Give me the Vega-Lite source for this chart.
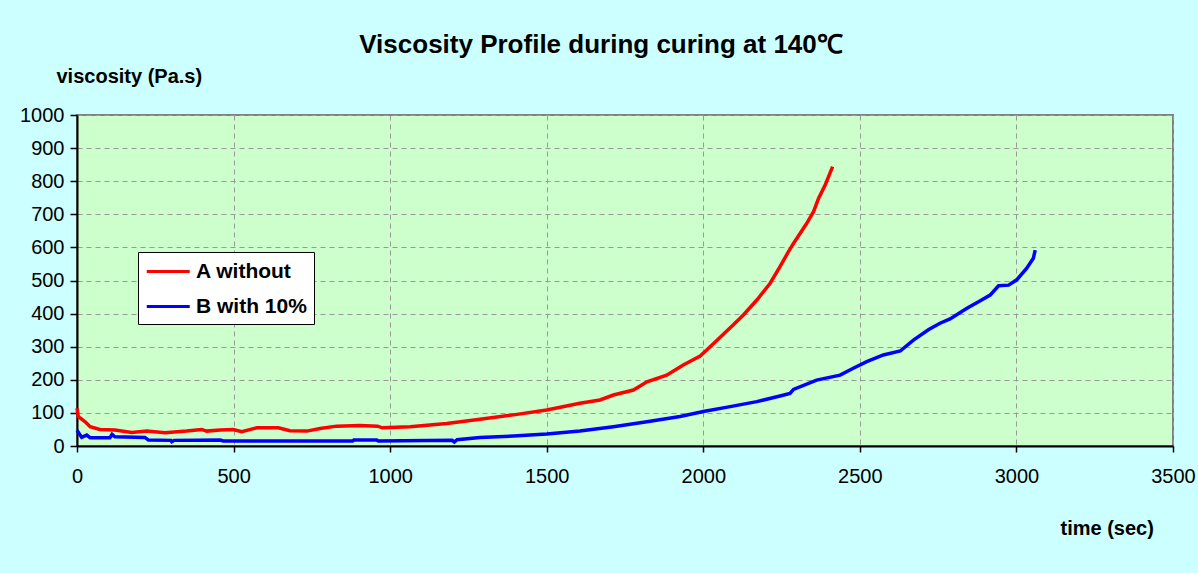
{
  "$schema": "https://vega.github.io/schema/vega-lite/v6.json",
  "width": 1096,
  "height": 331,
  "autosize": {"type": "none"},
  "padding": {"left": 77, "top": 115, "right": 25, "bottom": 127},
  "background": "#CCFFFF",
  "title": {
    "text": "Viscosity Profile during curing at 140℃",
    "font": "Liberation Sans",
    "fontSize": 26,
    "fontWeight": "bold",
    "color": "#000000",
    "anchor": "middle",
    "dx": -24,
    "offset": 8
  },
  "data": {
    "values": [
      {"t": 0, "v": 114, "s": "A without"},
      {"t": 4, "v": 89, "s": "A without"},
      {"t": 15, "v": 81, "s": "A without"},
      {"t": 26, "v": 73, "s": "A without"},
      {"t": 42, "v": 58, "s": "A without"},
      {"t": 73, "v": 50, "s": "A without"},
      {"t": 121, "v": 48, "s": "A without"},
      {"t": 175, "v": 41, "s": "A without"},
      {"t": 223, "v": 45, "s": "A without"},
      {"t": 281, "v": 40, "s": "A without"},
      {"t": 350, "v": 45, "s": "A without"},
      {"t": 398, "v": 50, "s": "A without"},
      {"t": 414, "v": 45, "s": "A without"},
      {"t": 457, "v": 48, "s": "A without"},
      {"t": 499, "v": 50, "s": "A without"},
      {"t": 526, "v": 43, "s": "A without"},
      {"t": 574, "v": 55, "s": "A without"},
      {"t": 643, "v": 55, "s": "A without"},
      {"t": 680, "v": 46, "s": "A without"},
      {"t": 734, "v": 45, "s": "A without"},
      {"t": 776, "v": 53, "s": "A without"},
      {"t": 829, "v": 60, "s": "A without"},
      {"t": 904, "v": 62, "s": "A without"},
      {"t": 960, "v": 60, "s": "A without"},
      {"t": 975, "v": 55, "s": "A without"},
      {"t": 1064, "v": 58, "s": "A without"},
      {"t": 1181, "v": 68, "s": "A without"},
      {"t": 1287, "v": 81, "s": "A without"},
      {"t": 1394, "v": 94, "s": "A without"},
      {"t": 1500, "v": 109, "s": "A without"},
      {"t": 1606, "v": 129, "s": "A without"},
      {"t": 1670, "v": 139, "s": "A without"},
      {"t": 1713, "v": 154, "s": "A without"},
      {"t": 1777, "v": 169, "s": "A without"},
      {"t": 1820, "v": 194, "s": "A without"},
      {"t": 1883, "v": 214, "s": "A without"},
      {"t": 1936, "v": 245, "s": "A without"},
      {"t": 1990, "v": 272, "s": "A without"},
      {"t": 2022, "v": 300, "s": "A without"},
      {"t": 2096, "v": 366, "s": "A without"},
      {"t": 2128, "v": 396, "s": "A without"},
      {"t": 2171, "v": 441, "s": "A without"},
      {"t": 2213, "v": 491, "s": "A without"},
      {"t": 2245, "v": 542, "s": "A without"},
      {"t": 2272, "v": 587, "s": "A without"},
      {"t": 2288, "v": 612, "s": "A without"},
      {"t": 2330, "v": 672, "s": "A without"},
      {"t": 2352, "v": 708, "s": "A without"},
      {"t": 2368, "v": 748, "s": "A without"},
      {"t": 2390, "v": 790, "s": "A without"},
      {"t": 2413, "v": 844, "s": "A without"},
      {"t": 0, "v": 48, "s": "B with 10%"},
      {"t": 10, "v": 33, "s": "B with 10%"},
      {"t": 15, "v": 26, "s": "B with 10%"},
      {"t": 31, "v": 33, "s": "B with 10%"},
      {"t": 42, "v": 25, "s": "B with 10%"},
      {"t": 105, "v": 25, "s": "B with 10%"},
      {"t": 112, "v": 35, "s": "B with 10%"},
      {"t": 121, "v": 28, "s": "B with 10%"},
      {"t": 217, "v": 26, "s": "B with 10%"},
      {"t": 228, "v": 18, "s": "B with 10%"},
      {"t": 300, "v": 17, "s": "B with 10%"},
      {"t": 303, "v": 13, "s": "B with 10%"},
      {"t": 310, "v": 17, "s": "B with 10%"},
      {"t": 457, "v": 18, "s": "B with 10%"},
      {"t": 467, "v": 15, "s": "B with 10%"},
      {"t": 880, "v": 15, "s": "B with 10%"},
      {"t": 884, "v": 18, "s": "B with 10%"},
      {"t": 957, "v": 18, "s": "B with 10%"},
      {"t": 962, "v": 15, "s": "B with 10%"},
      {"t": 1198, "v": 17, "s": "B with 10%"},
      {"t": 1205, "v": 12, "s": "B with 10%"},
      {"t": 1214, "v": 19, "s": "B with 10%"},
      {"t": 1287, "v": 26, "s": "B with 10%"},
      {"t": 1394, "v": 30, "s": "B with 10%"},
      {"t": 1500, "v": 36, "s": "B with 10%"},
      {"t": 1606, "v": 45, "s": "B with 10%"},
      {"t": 1713, "v": 58, "s": "B with 10%"},
      {"t": 1820, "v": 73, "s": "B with 10%"},
      {"t": 1926, "v": 89, "s": "B with 10%"},
      {"t": 2000, "v": 104, "s": "B with 10%"},
      {"t": 2086, "v": 119, "s": "B with 10%"},
      {"t": 2171, "v": 134, "s": "B with 10%"},
      {"t": 2245, "v": 151, "s": "B with 10%"},
      {"t": 2277, "v": 159, "s": "B with 10%"},
      {"t": 2288, "v": 171, "s": "B with 10%"},
      {"t": 2362, "v": 199, "s": "B with 10%"},
      {"t": 2437, "v": 214, "s": "B with 10%"},
      {"t": 2479, "v": 235, "s": "B with 10%"},
      {"t": 2522, "v": 255, "s": "B with 10%"},
      {"t": 2575, "v": 275, "s": "B with 10%"},
      {"t": 2629, "v": 287, "s": "B with 10%"},
      {"t": 2671, "v": 320, "s": "B with 10%"},
      {"t": 2720, "v": 352, "s": "B with 10%"},
      {"t": 2756, "v": 371, "s": "B with 10%"},
      {"t": 2788, "v": 384, "s": "B with 10%"},
      {"t": 2842, "v": 416, "s": "B with 10%"},
      {"t": 2879, "v": 436, "s": "B with 10%"},
      {"t": 2916, "v": 456, "s": "B with 10%"},
      {"t": 2943, "v": 484, "s": "B with 10%"},
      {"t": 2975, "v": 486, "s": "B with 10%"},
      {"t": 3001, "v": 502, "s": "B with 10%"},
      {"t": 3033, "v": 537, "s": "B with 10%"},
      {"t": 3054, "v": 567, "s": "B with 10%"},
      {"t": 3060, "v": 592, "s": "B with 10%"}
    ]
  },
  "mark": {"type": "line", "strokeWidth": 3.5, "interpolate": "linear"},
  "encoding": {
    "x": {
      "field": "t",
      "type": "quantitative",
      "scale": {"domain": [0, 3500], "nice": false, "zero": false},
      "axis": {
        "values": [0, 500, 1000, 1500, 2000, 2500, 3000, 3500],
        "format": "d",
        "title": "time (sec)",
        "titleX": 983,
        "titleY": 88,
        "titleAlign": "left",
        "titleBaseline": "alphabetic",
        "titleAnchor": null,
        "labelPadding": 14,
        "tickSize": 6,
        "labelFlush": false,
        "labelOverlap": false
      }
    },
    "y": {
      "field": "v",
      "type": "quantitative",
      "scale": {"domain": [0, 1000], "nice": false},
      "axis": {
        "values": [0, 100, 200, 300, 400, 500, 600, 700, 800, 900, 1000],
        "format": "d",
        "title": "viscosity (Pa.s)",
        "titleAngle": 0,
        "titleX": -21,
        "titleY": -33,
        "titleAlign": "left",
        "titleBaseline": "alphabetic",
        "titleAnchor": null,
        "tickSize": 7,
        "labelPadding": 6,
        "labelOverlap": false
      }
    },
    "color": {
      "field": "s",
      "type": "nominal",
      "scale": {"domain": ["A without", "B with 10%"], "range": ["#FF0000", "#0000FF"]},
      "legend": {
        "title": null,
        "orient": "none",
        "legendX": 61,
        "legendY": 137,
        "fillColor": "#FFFFFF",
        "strokeColor": "#000000",
        "padding": 7,
        "symbolType": "M-1,0H3",
        "symbolSize": 462,
        "symbolStrokeWidth": 3,
        "labelFont": "Liberation Sans",
        "labelFontSize": 21,
        "labelFontWeight": "bold",
        "labelColor": "#000000",
        "labelOffset": 26,
        "rowPadding": 12,
        "labelLimit": 300
      }
    }
  },
  "config": {
    "view": {"fill": "#CCFFCC", "stroke": "#808080", "strokeWidth": 2},
    "axis": {
      "domainColor": "#000000",
      "domainWidth": 2,
      "tickColor": "#000000",
      "tickWidth": 1.5,
      "labelFont": "Liberation Sans",
      "labelFontSize": 20,
      "labelColor": "#000000",
      "titleFont": "Liberation Sans",
      "titleFontSize": 20,
      "titleFontWeight": "bold",
      "titleColor": "#000000",
      "grid": true,
      "gridColor": "#999999",
      "gridDash": [5, 4],
      "gridWidth": 1
    }
  }
}
